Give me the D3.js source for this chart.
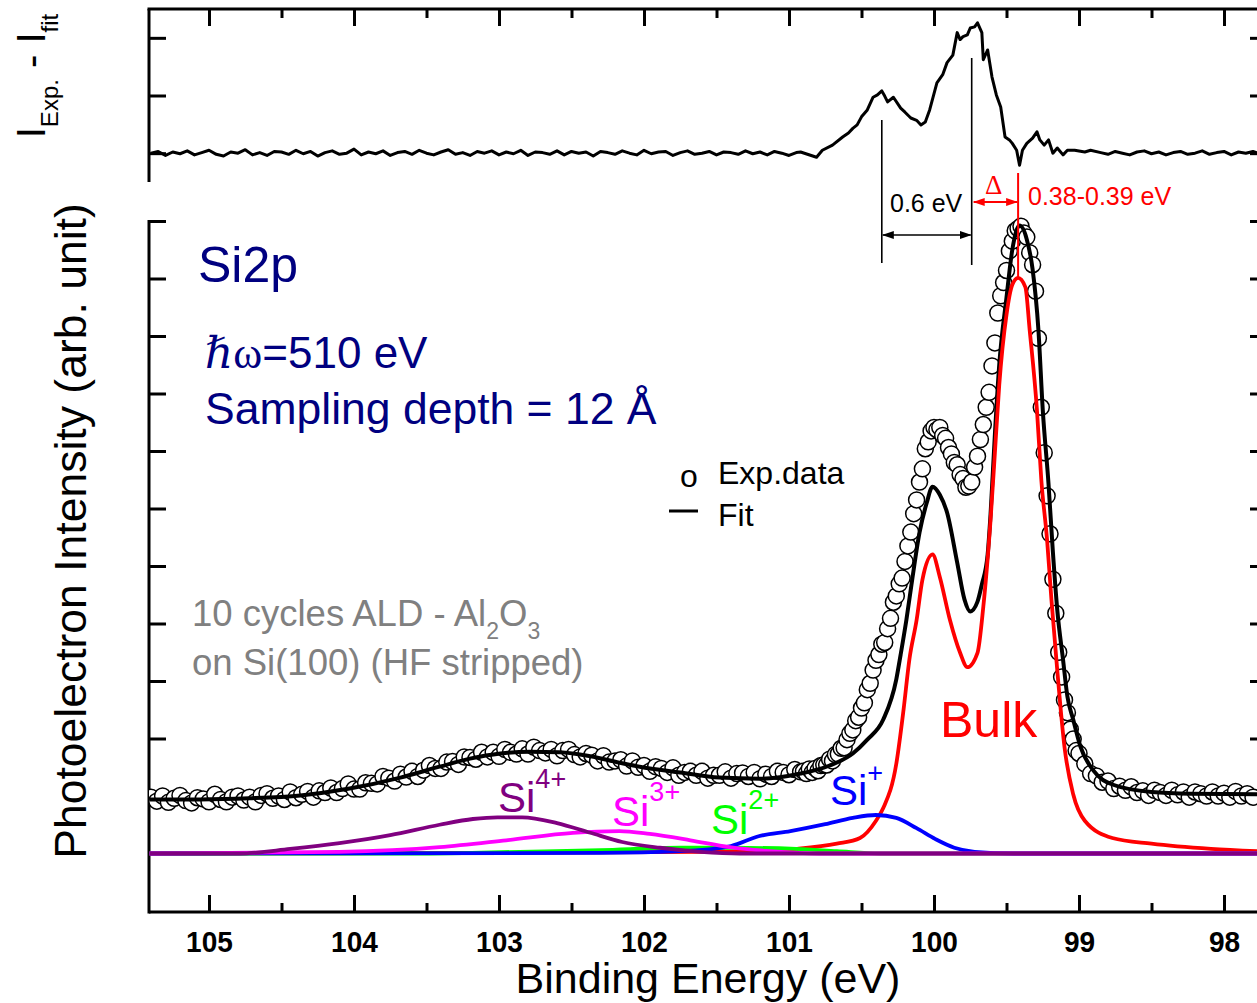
<!DOCTYPE html>
<html lang="en">
<head>
<meta charset="UTF-8" />
<title>Si2p XPS spectrum</title>
<script src="https://cdn.jsdelivr.net/npm/d3@7/dist/d3.min.js"></script>
<style>
  body { margin: 0; background: #ffffff; }
  svg { display: block; font-family: "Liberation Sans", Arial, sans-serif; }
</style>
</head>
<body>
<div id="xps_chart"></div>
<script>
const expLeftStart = 105.40, expLeftStep = 0.04;
const expLeft = [
  .98,.91,1.00,.89,.96,1.01,.92,.88,.97,.95,
  .90,1.03,.94,.90,.98,1.00,.93,.98,.90,1.01,
  1.04,.96,1.00,.94,1.07,.97,1.03,1.08,.98,1.09,
  1.06,1.14,1.06,1.13,1.21,1.12,1.12,1.23,1.22,1.21,
  1.34,1.31,1.26,1.38,1.33,1.43,1.34,1.45,1.53,1.48,
  1.48,1.59,1.60,1.55,1.68,1.67,1.64,1.76,1.68,1.76,
  1.69,1.81,1.76,1.73,1.82,1.73,1.85,1.79,1.75,1.81,
  1.70,1.79,1.81,1.72,1.68,1.74,1.71,1.61,1.70,1.59,
  1.61,1.63,1.52,1.61,1.50,1.53,1.43,1.51,1.48,1.41,
  1.49,1.36,1.41,1.43,1.36,1.43,1.31,1.36,1.36,1.42,
  1.31,1.39,1.40,1.34,1.41,1.30,1.38,1.34,1.43,1.41,
  1.37,1.46,1.42
];
const expPeakStart = 100.90, expPeakStep = 0.02;
const expPeak = [
  1.43,1.39,1.47,1.41,1.48,1.44,1.53,1.54,1.54,1.64,
  1.61,1.72,1.73,1.83,1.84,1.98,2.09,2.15,2.31,2.37,
  2.53,2.62,2.85,2.96,3.19,3.36,3.46,3.64,3.67,3.91,
  4.09,4.37,4.48,4.69,4.79,5.08,5.35,5.59,5.91,6.15,
  6.46,6.69,7.04,7.16,7.35,7.41,7.37,7.41,7.27,7.22,
  7.06,6.95,6.80,6.76,6.59,6.52,6.37,6.39,6.46,6.72,
  6.91,7.20,7.46,7.76,8.02,8.48,8.88,9.40,9.70,9.93,
  10.14,10.48,10.65,10.83,10.87,10.91,10.79,10.72,10.45,10.24,
  9.78,8.96,7.76,6.97,6.22,5.56,4.77,4.18,3.50,3.07,
  2.67,2.45,2.16,1.99,1.79,1.74
];
const expRightStart = 98.96, expRightStep = 0.04;
const expRight = [
  1.56,1.39,1.35,1.24,1.26,1.13,1.17,1.10,1.16,1.06,
  1.09,1.01,1.10,1.06,1.01,1.10,1.02,1.07,0.98,1.07,
  1.04,1.00,1.07,1.00,1.05,0.98,1.08,1.00,1.04,0.98
];

// fitted envelope and components: [binding energy, intensity]
const fitCurve = [
  [105.41,0.94],[105.06,0.94],[104.72,0.96],[104.37,1.01],[104.03,1.13],[103.68,1.32],
  [103.41,1.51],[103.20,1.65],[102.99,1.74],[102.79,1.77],[102.58,1.76],[102.37,1.69],
  [102.17,1.58],[102.03,1.51],[101.75,1.41],[101.48,1.32],[101.20,1.30],[100.92,1.39],
  [100.72,1.53],[100.56,1.74],[100.46,1.98],[100.35,2.33],[100.26,3.03],[100.23,3.46],
  [100.19,4.07],[100.15,4.77],[100.10,5.58],[100.05,6.10],[100.01,6.38],[99.96,6.24],
  [99.91,5.93],[99.84,5.06],[99.79,4.42],[99.75,4.21],[99.70,4.38],[99.67,4.68],
  [99.63,5.20],[99.61,5.90],[99.58,7.29],[99.55,8.50],[99.50,9.67],[99.46,10.50],
  [99.41,10.92],[99.36,10.68],[99.32,10.16],[99.28,9.11],[99.25,7.72],[99.21,6.42],
  [99.18,5.24],[99.15,4.24],[99.11,3.37],[99.08,2.73],[99.04,2.33],[98.99,1.86],
  [98.90,1.44],[98.77,1.20],[98.50,1.07],[98.23,1.04],[97.77,1.03]
];
const bulk = [
  [105.41,0],[102.99,0.01],[101.61,0.03],[101.21,0.04],[100.95,0.08],[100.67,0.17],
  [100.51,0.27],[100.40,0.57],[100.35,0.79],[100.26,1.56],[100.21,2.50],[100.17,3.37],
  [100.12,4.06],[100.08,4.76],[100.01,5.20],[99.96,4.81],[99.89,4.06],[99.82,3.49],
  [99.77,3.24],[99.70,3.49],[99.66,4.29],[99.61,5.80],[99.58,6.97],[99.55,8.15],
  [99.50,9.37],[99.46,9.89],[99.42,10.01],[99.37,9.85],[99.34,9.10],[99.29,7.71],
  [99.26,6.50],[99.22,5.45],[99.19,4.41],[99.15,3.19],[99.10,1.85],[99.04,1.03],
  [98.96,0.57],[98.77,0.27],[98.50,0.17],[98.09,0.08],[97.77,0.04]
];
const siPlus = [
  [105.41,0],[102.30,0.01],[101.75,0.04],[101.40,0.13],[101.21,0.30],[100.99,0.39],
  [100.75,0.51],[100.56,0.62],[100.40,0.67],[100.26,0.62],[100.12,0.44],[99.99,0.25],
  [99.86,0.10],[99.72,0.03],[99.45,0],[97.77,0]
];
const si2Plus = [
  [105.41,0],[103.48,0],[102.86,0.03],[102.30,0.06],[101.75,0.10],[101.41,0.10],
  [100.95,0.08],[100.67,0.04],[100.37,0],[97.77,0]
];
const si3Plus = [
  [105.41,0],[104.10,0.03],[103.41,0.11],[102.95,0.23],[102.49,0.36],[102.17,0.39],
  [101.96,0.34],[101.68,0.23],[101.41,0.11],[101.13,0.04],[100.79,0],[97.77,0]
];
const si4Plus = [
  [105.41,0],[104.79,0],[104.44,0.08],[104.10,0.18],[103.75,0.32],[103.41,0.50],
  [103.18,0.60],[103.01,0.63],[102.84,0.63],[102.60,0.53],[102.37,0.36],[102.15,0.20],
  [101.89,0.10],[101.61,0.03],[101.34,0],[97.77,0]
];

// residual I_exp - I_fit
const resLeftStart = 105.40, resStep = 0.05;
const resLeft = [
  0.00,0.03,-0.04,0.02,-0.01,0.04,-0.03,0.01,0.05,-0.02,
  -0.05,0.02,0.00,0.06,-0.03,0.01,-0.04,0.03,0.02,-0.02,
  0.05,-0.01,0.03,-0.05,0.01,0.04,-0.02,0.00,0.07,-0.03,
  0.02,-0.01,0.04,-0.04,0.01,0.03,-0.02,0.05,0.00,-0.03,
  0.02,0.06,-0.02,0.01,-0.04,0.03,0.00,0.04,-0.03,0.02,
  -0.01,0.05,-0.04,0.02,0.01,-0.02,0.04,-0.03,0.03,0.00,
  0.02,-0.05,0.03,0.01,-0.02,0.04,0.00,-0.03,0.05,-0.01,
  0.02,0.03,-0.04,0.01,0.04,-0.02,0.00,0.03,-0.03,0.02,
  0.01,-0.02,0.04,-0.01,0.02,-0.03,0.03,0.00,-0.04,0.01
];
const resPeak = [
  [100.92,0.02],[100.81,-0.07],[100.77,0.05],[100.70,0.14],[100.63,0.28],[100.59,0.35],
  [100.56,0.43],[100.53,0.49],[100.50,0.63],[100.46,0.75],[100.42,0.97],[100.39,1.01],
  [100.36,1.08],[100.34,0.99],[100.32,0.89],[100.28,0.97],[100.23,0.78],[100.20,0.71],
  [100.16,0.61],[100.12,0.57],[100.09,0.49],[100.06,0.54],[100.03,0.75],[99.98,1.22],
  [99.94,1.36],[99.91,1.57],[99.87,1.70],[99.84,2.09],[99.82,1.97],[99.80,2.02],
  [99.77,2.05],[99.75,2.17],[99.72,2.19],[99.70,2.26],[99.67,2.09],[99.66,1.62],
  [99.63,1.79],[99.60,1.32],[99.57,1.01],[99.54,0.80],[99.51,0.28],[99.48,0.23],
  [99.46,0.17],[99.43,0.05],[99.41,-0.21],[99.39,0.05],[99.36,0.17],[99.32,0.26],
  [99.29,0.37],[99.27,0.23],[99.24,0.14],[99.21,0.23],[99.18,0.00],[99.15,0.09],
  [99.11,-0.03],[99.08,0.05],[99.03,0.05],[98.96,0.02],[98.92,0.05]
];
const resRightStart = 98.85;
const resRight = [
  0.01,-0.02,0.03,0.00,-0.03,0.02,0.04,-0.01,0.02,-0.03,0.01,0.03,
  -0.02,0.00,0.04,-0.02,0.01,0.03,-0.03,0.02,0.00,0.03,-0.01
];

const majorTicks = [105, 104, 103, 102, 101, 100, 99, 98];
const minorTicks = [104.5, 103.5, 102.5, 101.5, 100.5, 99.5, 98.5];
const mainTicks = [2, 3, 4, 5, 6, 7, 8, 9, 10, 11];
const resTicks = [0, 1, 2];

// annotation energies (eV)
const splitE = [100.36, 99.74];
const bulkPeakE = 99.42;

const onGrid = (start, step, vals) => vals.map((v, i) => [start - i * step, v]);
const expData = onGrid(expLeftStart, expLeftStep, expLeft)
  .concat(onGrid(expPeakStart, expPeakStep, expPeak))
  .concat(onGrid(expRightStart, expRightStep, expRight));
const residual = onGrid(resLeftStart, resStep, resLeft)
  .concat(resPeak)
  .concat(onGrid(resRightStart, resStep, resRight));

const width = 1257, height = 1003;
const left = 149, right = 1257;
const resTop = 9, resBottom = 182;
const mainTop = 220, mainBottom = 912;

const svg = d3.select("#xps_chart").append("svg")
  .attr("width", width).attr("height", height);

const x = d3.scaleLinear().domain([105, 98]).range([209, 1224]);
const yRes = d3.scaleLinear().domain([-0.5, 2.5]).range([resBottom, resTop]);
const y = d3.scaleLinear().domain([-1, 11]).range([911, 221]);

const defs = svg.append("defs");
defs.append("clipPath").attr("id", "clipRes").append("rect")
  .attr("x", left).attr("y", resTop).attr("width", right - left).attr("height", resBottom - resTop);
defs.append("clipPath").attr("id", "clipMain").append("rect")
  .attr("x", left).attr("y", 200).attr("width", right - left).attr("height", mainBottom - 200);

function arrowHead(id, color) {
  defs.append("marker").attr("id", id)
    .attr("viewBox", "0 0 12 8").attr("refX", 11).attr("refY", 4)
    .attr("markerWidth", 12).attr("markerHeight", 8)
    .attr("markerUnits", "userSpaceOnUse").attr("orient", "auto-start-reverse")
    .append("path").attr("d", "M0,0 L12,4 L0,8 Z").attr("fill", color);
}
arrowHead("arrBlack", "#000");
arrowHead("arrRed", "#ff0000");

function styleAxis(g) {
  g.select(".domain").remove();
  g.attr("font-family", null).attr("font-size", null);
  g.selectAll(".tick line").attr("stroke", "#000").attr("stroke-width", 3);
}

// ---- residual panel ----
svg.append("g").attr("transform", `translate(0,${resTop})`)
  .call(d3.axisTop(x).tickValues(majorTicks).tickSize(-17).tickFormat("")).call(styleAxis);
svg.append("g").attr("transform", `translate(0,${resTop})`)
  .call(d3.axisTop(x).tickValues(minorTicks).tickSize(-9).tickFormat("")).call(styleAxis);
svg.append("g").attr("transform", `translate(${left},0)`)
  .call(d3.axisLeft(yRes).tickValues(resTicks).tickSize(-17).tickFormat("")).call(styleAxis);
svg.append("g").attr("transform", `translate(${right},0)`)
  .call(d3.axisRight(yRes).tickValues(resTicks).tickSize(-7).tickFormat("")).call(styleAxis);

svg.append("path").datum(residual)
  .attr("clip-path", "url(#clipRes)")
  .attr("fill", "none").attr("stroke", "#000").attr("stroke-width", 3)
  .attr("stroke-linejoin", "round")
  .attr("d", d3.line().x(d => x(d[0])).y(d => yRes(d[1])));

svg.append("line").attr("x1", left - 1.5).attr("x2", right).attr("y1", resTop).attr("y2", resTop)
  .attr("stroke", "#000").attr("stroke-width", 3);
svg.append("line").attr("x1", left).attr("x2", left).attr("y1", resTop).attr("y2", resBottom)
  .attr("stroke", "#000").attr("stroke-width", 3);

// ---- main panel axes ----
svg.append("g").attr("transform", `translate(0,${mainBottom})`)
  .call(d3.axisBottom(x).tickValues(majorTicks).tickSize(-17).tickFormat(d3.format("d")))
  .call(styleAxis)
  .call(g => g.selectAll(".tick text")
    .attr("y", 40).attr("dy", null).attr("fill", "#000")
    .attr("textLength", d => String(d).length * 15.6).attr("lengthAdjust", "spacingAndGlyphs")
    .style("font-size", "29px").style("font-weight", "bold"));
svg.append("g").attr("transform", `translate(0,${mainBottom})`)
  .call(d3.axisBottom(x).tickValues(minorTicks).tickSize(-9).tickFormat("")).call(styleAxis);
svg.append("g").attr("transform", `translate(${left},0)`)
  .call(d3.axisLeft(y).tickValues(mainTicks).tickSize(-17).tickFormat("")).call(styleAxis);
svg.append("g").attr("transform", `translate(${right},0)`)
  .call(d3.axisRight(y).tickValues(mainTicks).tickSize(-7).tickFormat("")).call(styleAxis);

svg.append("line").attr("x1", left).attr("x2", left).attr("y1", mainTop).attr("y2", mainBottom + 1.5)
  .attr("stroke", "#000").attr("stroke-width", 3);
svg.append("line").attr("x1", left).attr("x2", right).attr("y1", mainBottom).attr("y2", mainBottom)
  .attr("stroke", "#000").attr("stroke-width", 3);

// ---- main panel data ----
const plot = svg.append("g").attr("clip-path", "url(#clipMain)");

plot.selectAll("circle.exp").data(expData).enter().append("circle")
  .attr("class", "exp")
  .attr("cx", d => x(d[0])).attr("cy", d => y(d[1])).attr("r", 8)
  .attr("fill", "#fff").attr("stroke", "#000").attr("stroke-width", 1.5);

const line = d3.line().x(d => x(d[0])).y(d => y(d[1])).curve(d3.curveMonotoneX);

plot.append("path").datum(fitCurve)
  .attr("fill", "none").attr("stroke", "#000").attr("stroke-width", 4).attr("d", line);

const components = [
  { data: bulk, color: "#ff0000" },
  { data: si2Plus, color: "#00ff00" },
  { data: siPlus, color: "#0000ff" },
  { data: si3Plus, color: "#ff00ff" },
  { data: si4Plus, color: "#800080" }
];
components.forEach(c => {
  plot.append("path").datum(c.data)
    .attr("fill", "none").attr("stroke", c.color).attr("stroke-width", 3.8).attr("d", line);
});

// ---- annotations ----
svg.append("line").attr("x1", x(splitE[0])).attr("x2", x(splitE[0])).attr("y1", 120).attr("y2", 263)
  .attr("stroke", "#000").attr("stroke-width", 1.6);
svg.append("line").attr("x1", x(splitE[1])).attr("x2", x(splitE[1])).attr("y1", 58).attr("y2", 265)
  .attr("stroke", "#000").attr("stroke-width", 1.6);
svg.append("line").attr("x1", x(splitE[0]) + 1).attr("x2", x(splitE[1]) - 1).attr("y1", 235).attr("y2", 235)
  .attr("stroke", "#000").attr("stroke-width", 1.6)
  .attr("marker-start", "url(#arrBlack)").attr("marker-end", "url(#arrBlack)");
svg.append("text").attr("x", 890).attr("y", 212).style("font-size", "25px").text("0.6 eV");

svg.append("line").attr("x1", x(bulkPeakE)).attr("x2", x(bulkPeakE)).attr("y1", 173).attr("y2", 278)
  .attr("stroke", "#ff0000").attr("stroke-width", 2);
svg.append("line").attr("x1", x(splitE[1]) + 2).attr("x2", x(bulkPeakE) - 1).attr("y1", 202).attr("y2", 202)
  .attr("stroke", "#ff0000").attr("stroke-width", 2)
  .attr("marker-start", "url(#arrRed)").attr("marker-end", "url(#arrRed)");
svg.append("text").attr("x", 985).attr("y", 194).attr("fill", "#ff0000")
  .style("font-family", '"Liberation Serif", "DejaVu Serif", serif').style("font-size", "27px").text("Δ");
svg.append("text").attr("x", 1028).attr("y", 205).attr("fill", "#ff0000")
  .style("font-size", "25px").text("0.38-0.39 eV");

// ---- texts ----
const navy = "#000080";
svg.append("text").attr("x", 198).attr("y", 282).attr("fill", navy).style("font-size", "50px").text("Si2p");

const hw = svg.append("text").attr("x", 205).attr("y", 368).attr("fill", navy).style("font-size", "44px");
hw.append("tspan").style("font-family", '"DejaVu Serif", serif').style("font-style", "italic").text("ℏ");
hw.append("tspan").style("font-family", '"Liberation Serif", "DejaVu Serif", serif').text("ω");
hw.append("tspan").text("=510 eV");
svg.append("text").attr("x", 205).attr("y", 424).attr("fill", navy).style("font-size", "44.5px")
  .text("Sampling depth = 12 Å");

// legend
svg.append("text").attr("x", 680).attr("y", 487).style("font-size", "32px").text("o");
svg.append("text").attr("x", 718).attr("y", 484).style("font-size", "32px").text("Exp.data");
svg.append("line").attr("x1", 669).attr("x2", 698).attr("y1", 511).attr("y2", 511)
  .attr("stroke", "#000").attr("stroke-width", 3);
svg.append("text").attr("x", 718).attr("y", 526).style("font-size", "32px").text("Fit");

// sample description
const gray = "#808080";
const s1 = svg.append("text").attr("x", 192).attr("y", 626).attr("fill", gray).style("font-size", "36.5px");
s1.append("tspan").text("10 cycles ALD - Al");
s1.append("tspan").attr("dy", 13).style("font-size", "23px").text("2");
s1.append("tspan").attr("dy", -13).text("O");
s1.append("tspan").attr("dy", 13).style("font-size", "23px").text("3");
svg.append("text").attr("x", 192).attr("y", 675).attr("fill", gray).style("font-size", "36.5px")
  .text("on Si(100) (HF stripped)");

// component labels
function ionLabel(xp, yp, sup, color, supShift) {
  const t = svg.append("text").attr("x", xp).attr("y", yp).attr("fill", color).style("font-size", "42px");
  t.append("tspan").text("Si");
  t.append("tspan").attr("dy", -supShift).style("font-size", "27px").text(sup);
}
ionLabel(498, 812, "4+", "#800080", 24);
ionLabel(612, 826, "3+", "#ff00ff", 25);
ionLabel(711, 834, "2+", "#00ff00", 25);
ionLabel(830, 805, "+", "#0000ff", 23);
svg.append("text").attr("x", 940).attr("y", 737).attr("fill", "#ff0000").style("font-size", "50px").text("Bulk");

// axis titles
svg.append("text").attr("x", 708).attr("y", 993).attr("text-anchor", "middle")
  .style("font-size", "43px").text("Binding Energy (eV)");
svg.append("text").attr("transform", "translate(86,531) rotate(-90)").attr("text-anchor", "middle")
  .style("font-size", "44.5px").text("Photoelectron Intensity (arb. unit)");

const resLabel = svg.append("text").attr("transform", "translate(45,76) rotate(-90)")
  .attr("text-anchor", "middle").style("font-size", "40px");
resLabel.append("tspan").text("I");
resLabel.append("tspan").attr("dy", 13).style("font-size", "24px").text("Exp.");
resLabel.append("tspan").attr("dy", -13).text(" - I");
resLabel.append("tspan").attr("dy", 13).style("font-size", "24px").text("fit");
</script>
</body>
</html>
